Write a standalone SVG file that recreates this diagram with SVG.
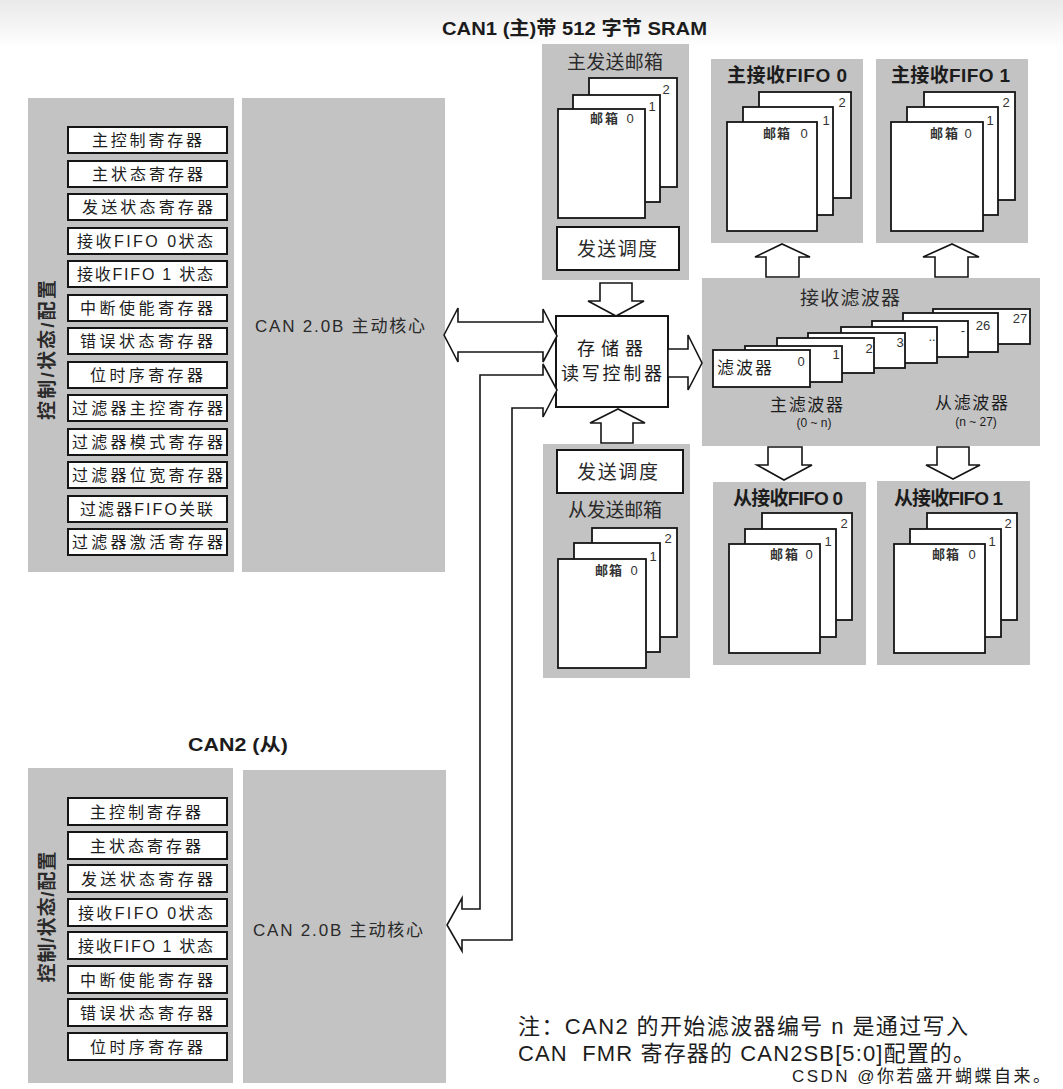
<svg xmlns="http://www.w3.org/2000/svg" width="1063" height="1089" viewBox="0 0 1063 1089">
<defs>
<linearGradient id="topg" x1="0" y1="0" x2="0" y2="1">
<stop offset="0" stop-color="#e9e9e9"/>
<stop offset="1" stop-color="#ffffff"/>
</linearGradient>
<style>
.panel{fill:#c3c3c3}
.box{fill:#fff;stroke:#151515;stroke-width:2}
.page{fill:#fff;stroke:#151515;stroke-width:1.8}
.arrow{fill:#fff;stroke:#151515;stroke-width:1.6;stroke-linejoin:miter}
.t{font-family:"Liberation Sans","Noto Sans CJK SC",sans-serif;fill:#1c1c1c}
.reg{font-size:16px}
.ttl{font-size:19px;font-weight:bold}
.lbl{font-size:19px;fill:#2a2a2a}
.num{font-size:13px;text-anchor:middle;fill:#333}
.mb{font-size:13px;font-weight:bold;fill:#333}
.vert{font-size:19px;font-weight:bold;text-anchor:middle;fill:#2a2a2a}
.core{font-size:17px;fill:#2a2a2a}
</style>
</defs>
<rect x="0" y="0" width="1063" height="1089" fill="#fff"/>
<rect x="0" y="0" width="1063" height="48" fill="url(#topg)"/>

<text class="t ttl" x="442" y="35" textLength="265" lengthAdjust="spacingAndGlyphs">CAN1 (主)带 512 字节 SRAM</text>
<text class="t" x="188" y="751" font-size="18" font-weight="bold" textLength="100" lengthAdjust="spacingAndGlyphs">CAN2 (从)</text>

<g id="can1-regs">
<rect class="panel" x="28" y="98" width="206" height="474"/>
<text class="t vert" transform="translate(54,350) rotate(-90)" textLength="140">控制/状态/配置</text>
<rect class="box" x="68" y="127" width="159" height="26"/><text class="t reg" x="92" y="146" textLength="110">主控制寄存器</text>
<rect class="box" x="68" y="161" width="159" height="26"/><text class="t reg" x="92" y="180" textLength="111">主状态寄存器</text>
<rect class="box" x="68" y="194" width="159" height="26"/><text class="t reg" x="82" y="213" textLength="131">发送状态寄存器</text>
<rect class="box" x="68" y="228" width="159" height="26"/><text class="t reg" x="77" y="247" textLength="136">接收FIFO 0状态</text>
<rect class="box" x="68" y="261" width="159" height="26"/><text class="t reg" x="77" y="280" textLength="136">接收FIFO 1 状态</text>
<rect class="box" x="68" y="295" width="159" height="26"/><text class="t reg" x="80" y="314" textLength="133">中断使能寄存器</text>
<rect class="box" x="68" y="328" width="159" height="26"/><text class="t reg" x="80" y="347" textLength="133">错误状态寄存器</text>
<rect class="box" x="68" y="362" width="159" height="26"/><text class="t reg" x="90" y="381" textLength="113">位时序寄存器</text>
<rect class="box" x="68" y="395" width="159" height="26"/><text class="t reg" x="72" y="414" textLength="151">过滤器主控寄存器</text>
<rect class="box" x="68" y="429" width="159" height="26"/><text class="t reg" x="72" y="448" textLength="151">过滤器模式寄存器</text>
<rect class="box" x="68" y="462" width="159" height="26"/><text class="t reg" x="72" y="481" textLength="151">过滤器位宽寄存器</text>
<rect class="box" x="68" y="496" width="159" height="26"/><text class="t reg" x="80" y="515" textLength="133">过滤器FIFO关联</text>
<rect class="box" x="68" y="529" width="159" height="26"/><text class="t reg" x="72" y="548" textLength="151">过滤器激活寄存器</text>
</g>

<g id="can1-core">
<rect class="panel" x="242" y="98" width="203" height="474"/>
<text class="t core" x="255" y="332" textLength="170">CAN 2.0B 主动核心</text>
</g>

<g id="main-tx-mailbox">
<rect class="panel" x="542" y="44" width="147" height="236"/>
<text class="t lbl" x="567" y="69" textLength="96">主发送邮箱</text>
<rect class="page" x="589" y="78" width="88" height="109"/>
<rect class="page" x="573" y="95" width="87" height="107"/>
<rect class="page" x="558" y="109" width="87" height="109"/>
<text class="t num" x="666" y="94">2</text>
<text class="t num" x="652" y="111">1</text>
<text class="t mb" x="590" y="123" textLength="28">邮箱</text>
<text class="t num" x="630" y="123">0</text>
<rect class="box" x="557" y="227" width="122" height="43"/>
<text class="t lbl" x="577" y="256" textLength="80">发送调度</text>
</g>

<g id="mem-ctrl">
<rect class="box" x="556" y="316" width="112" height="91"/>
<text class="t" x="577" y="355" font-size="18" textLength="66" fill="#2a2a2a">存储器</text>
<text class="t" x="561" y="380" font-size="18" textLength="101" fill="#2a2a2a">读写控制器</text>
</g>

<g id="slave-tx-mailbox">
<rect class="panel" x="543" y="444" width="147" height="234"/>
<rect class="box" x="557" y="450" width="126" height="43"/>
<text class="t lbl" x="577" y="479" textLength="81">发送调度</text>
<text class="t lbl" x="568" y="517" textLength="94">从发送邮箱</text>
<rect class="page" x="592" y="528" width="85" height="109"/>
<rect class="page" x="574" y="543" width="86" height="109"/>
<rect class="page" x="558" y="559" width="88" height="109"/>
<text class="t num" x="668" y="543">2</text>
<text class="t num" x="653" y="561">1</text>
<text class="t mb" x="595" y="575" textLength="27">邮箱</text>
<text class="t num" x="634" y="575">0</text>
</g>

<g id="main-rx-fifo0">
<rect class="panel" x="711" y="59" width="152" height="184"/>
<text class="t ttl" x="727" y="82" textLength="120">主接收FIFO 0</text>
<rect class="page" x="759" y="92" width="92" height="106"/>
<rect class="page" x="743" y="107" width="90" height="108"/>
<rect class="page" x="727" y="122" width="90" height="109"/>
<text class="t num" x="842" y="107">2</text>
<text class="t num" x="826" y="125">1</text>
<text class="t mb" x="763" y="138" textLength="27">邮箱</text>
<text class="t num" x="804" y="138">0</text>
</g>

<g id="main-rx-fifo1">
<rect class="panel" x="876" y="59" width="152" height="184"/>
<text class="t ttl" x="891" y="82" textLength="119">主接收FIFO 1</text>
<rect class="page" x="924" y="92" width="91" height="108"/>
<rect class="page" x="907" y="107" width="91" height="108"/>
<rect class="page" x="891" y="122" width="92" height="109"/>
<text class="t num" x="1006" y="107">2</text>
<text class="t num" x="990" y="125">1</text>
<text class="t mb" x="930" y="138" textLength="28">邮箱</text>
<text class="t num" x="968" y="138">0</text>
</g>

<g id="rx-filters">
<rect class="panel" x="702" y="278" width="338" height="168"/>
<text class="t lbl" x="800" y="305" textLength="100">接收滤波器</text>
<rect class="page" x="933" y="309" width="97" height="35"/>
<text class="t num" x="1020" y="323" font-size="14">27</text>
<rect class="page" x="903" y="313" width="95" height="39"/>
<text class="t num" x="983" y="330" font-size="14">26</text>
<rect class="page" x="872" y="321" width="96" height="36"/>
<text class="t num" x="963" y="335">-</text>
<rect class="page" x="841" y="327" width="96" height="36"/>
<text class="t num" x="932" y="341">..</text>
<rect class="page" x="808" y="333" width="97" height="35"/>
<text class="t num" x="900" y="347" font-size="14">3</text>
<rect class="page" x="777" y="338" width="97" height="35"/>
<text class="t num" x="869" y="353" font-size="14">2</text>
<rect class="page" x="745" y="346" width="97" height="36"/>
<text class="t num" x="836" y="359" font-size="14">1</text>
<rect class="page" x="713" y="350" width="97" height="37"/>
<text class="t num" x="801" y="366" font-size="14">0</text>
<text class="t" x="717" y="374" font-size="17" textLength="55" fill="#2a2a2a">滤波器</text>
<text class="t" x="770" y="411" font-size="17" textLength="73" fill="#2a2a2a">主滤波器</text>
<text class="t" x="814" y="427" font-size="12" text-anchor="middle" fill="#2a2a2a">(0 ~ n)</text>
<text class="t" x="935" y="409" font-size="17" textLength="73" fill="#2a2a2a">从滤波器</text>
<text class="t" x="976" y="426" font-size="12" text-anchor="middle" fill="#2a2a2a">(n ~ 27)</text>
</g>

<g id="slave-rx-fifo0">
<rect class="panel" x="713" y="482" width="153" height="183"/>
<text class="t ttl" x="733" y="505" textLength="110">从接收FIFO 0</text>
<rect class="page" x="762" y="513" width="90" height="107"/>
<rect class="page" x="745" y="529" width="91" height="108"/>
<rect class="page" x="729" y="544" width="91" height="109"/>
<text class="t num" x="844" y="528">2</text>
<text class="t num" x="828" y="546">1</text>
<text class="t mb" x="770" y="559" textLength="28">邮箱</text>
<text class="t num" x="809" y="559">0</text>
</g>

<g id="slave-rx-fifo1">
<rect class="panel" x="877" y="481" width="153" height="184"/>
<text class="t ttl" x="894" y="505" textLength="109">从接收FIFO 1</text>
<rect class="page" x="927" y="513" width="90" height="107"/>
<rect class="page" x="910" y="529" width="91" height="108"/>
<rect class="page" x="894" y="544" width="91" height="109"/>
<text class="t num" x="1008" y="528">2</text>
<text class="t num" x="992" y="546">1</text>
<text class="t mb" x="932" y="559" textLength="27">邮箱</text>
<text class="t num" x="972" y="559">0</text>
</g>

<g id="can2-regs">
<rect class="panel" x="28" y="768" width="205" height="315"/>
<text class="t vert" transform="translate(54,917) rotate(-90)" textLength="131">控制/状态/配置</text>
<rect class="box" x="68" y="798" width="159" height="27"/><text class="t reg" x="90" y="818" textLength="111">主控制寄存器</text>
<rect class="box" x="68" y="832" width="159" height="27"/><text class="t reg" x="90" y="852" textLength="111">主状态寄存器</text>
<rect class="box" x="68" y="865" width="159" height="27"/><text class="t reg" x="81" y="885" textLength="132">发送状态寄存器</text>
<rect class="box" x="68" y="899" width="159" height="27"/><text class="t reg" x="78" y="919" textLength="135">接收FIFO 0状态</text>
<rect class="box" x="68" y="932" width="159" height="27"/><text class="t reg" x="78" y="952" textLength="135">接收FIFO 1 状态</text>
<rect class="box" x="68" y="966" width="159" height="27"/><text class="t reg" x="80" y="986" textLength="133">中断使能寄存器</text>
<rect class="box" x="68" y="999" width="159" height="27"/><text class="t reg" x="80" y="1019" textLength="133">错误状态寄存器</text>
<rect class="box" x="68" y="1033" width="159" height="27"/><text class="t reg" x="90" y="1053" textLength="113">位时序寄存器</text>
</g>

<g id="can2-core">
<rect class="panel" x="243" y="770" width="203" height="313"/>
<text class="t core" x="253" y="936" textLength="170">CAN 2.0B 主动核心</text>
</g>

<g id="connectors">
<polygon class="arrow" points="444,335 458,308 458,322 543,322 543,309 557,336 543,362 543,352 458,352 458,362"/>
<polygon class="arrow" points="557,390 543,417 543,408 512,408 512,940 462,940 462,951 447,925 462,898 462,909 480,909 480,375 543,375 543,364"/>
<polygon class="arrow" points="600,283 632,283 632,301 644,301 616,316 588,301 600,301"/>
<polygon class="arrow" points="601,443 601,423 590,423 618,409 645,423 633,423 633,443"/>
<polygon class="arrow" points="668,349 688,349 688,335 702,363 688,390 688,377 668,377"/>
<polygon class="arrow" points="766,277 766,257 755,257 782,244 810,257 799,257 799,277"/>
<polygon class="arrow" points="935,277 935,257 923,257 952,244 979,257 968,257 968,277"/>
<polygon class="arrow" points="768,447 802,447 802,465 812,465 784,480 757,465 768,465"/>
<polygon class="arrow" points="937,447 969,447 969,465 980,465 953,479 926,465 937,465"/>
</g>

<g id="note">
<text class="t" x="518" y="1034" font-size="22" textLength="450" fill="#222">注：CAN2 的开始滤波器编号 n 是通过写入</text>
<text class="t" x="518" y="1061" font-size="22" textLength="457" fill="#222">CAN&#160; FMR 寄存器的 CAN2SB[5:0]配置的。</text>
</g>
<text class="t" x="792" y="1082" font-size="17" textLength="258" fill="#c9c9c9">CSDN @你若盛开蝴蝶自来。</text>
</svg>
